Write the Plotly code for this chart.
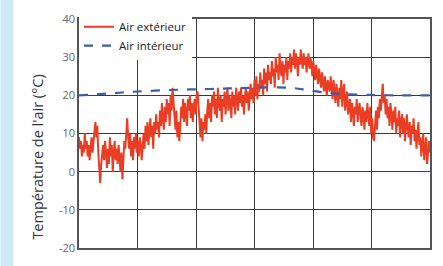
import plotly.graph_objects as go

# Outdoor air temperature, one value per day
outdoor = [
    9, 6, 8, 4, 7, 5, 10, 6, 8, 4,
    7, 3, 6, 9, 5, 8, 11, 13, 9, 12,
    5, 1, -3, 2, 4, 7, 3, 8, 5, 1,
    6, 2, 9, 4, 7, 0, 5, 8, 3, 6,
    2, 7, 4, 0, 5, -2, 3, 8, 6, 11,
    14, 9, 6, 10, 4, 8, 3, 9, 6, 10,
    5, 8, 4, 9, 7, 3, 8, 10, 6, 12,
    8, 13, 7, 11, 14, 9, 12, 6, 13, 10,
    15, 11, 13, 9, 16, 12, 18, 14, 11, 17,
    13, 19, 15, 18, 12, 20, 16, 22, 18, 14,
    11, 16, 9, 13, 8, 12, 17, 14, 19, 13,
    18, 15, 12, 19, 16, 20, 14, 18, 13, 17,
    19, 15, 20, 21, 16, 12, 9, 14, 8, 13,
    11, 15, 10, 16, 19, 14, 18, 13, 20, 17,
    21, 15, 19, 14, 22, 18, 16, 20, 13, 19,
    17, 21, 15, 19, 22, 16, 20, 18, 14, 21,
    17, 20, 15, 22, 19, 16, 21, 18, 22, 17,
    20, 15, 19, 22, 18, 21, 16, 20, 23, 19,
    22, 18, 24, 20, 25, 19, 23, 21, 26, 22,
    24, 20, 27, 23, 26, 21, 28, 24, 26, 23,
    29, 25, 27, 22, 30, 26, 28, 24, 31, 27,
    25, 29, 23, 28, 26, 30, 24, 29, 27, 31,
    26, 30, 28, 32, 27, 31, 29, 25, 30, 28,
    32, 29, 27, 31, 28, 30, 26, 29, 31, 27,
    30, 28, 25, 29, 27, 24, 28, 26, 23, 27,
    25, 22, 26, 24, 21, 25, 23, 20, 24, 22,
    21, 25, 22, 19, 24, 21, 18, 23, 20, 17,
    22, 19, 24, 17, 21, 23, 16, 19, 21, 15,
    17, 19, 13, 18, 16, 12, 17, 15, 19, 13,
    16, 18, 14, 12, 17, 15, 11, 16, 13, 18,
    15, 12, 17, 10, 14, 9, 8, 13, 16, 11,
    17, 14, 19, 16, 21, 23, 18, 20, 15, 19,
    14, 17, 12, 18, 15, 11, 16, 13, 17, 10,
    14, 12, 16, 9, 13, 15, 10, 14, 8, 12,
    15, 11, 9, 13, 7, 12, 10, 14, 8, 11,
    6, 10, 13, 7, 9, 4, 8, 10, 3, 7,
    9, 2, 6, 8, 5,
]
outdoor_days = list(range(len(outdoor)))

# Indoor air temperature
indoor_days = [0, 32, 60, 94, 125, 156, 182, 218, 239, 260, 275, 301, 333, 364]
indoor = [20.0, 20.5, 21.0, 21.4, 21.6, 21.8, 22.0, 22.0, 21.3, 20.6, 20.3, 20.1, 20.0, 20.0]

y_ticks = [-20, -10, 0, 10, 20, 30, 40]
y_ticklabels = ["-20", "-10", "0", "10", "20", "30", "40"]
x_grid = [k * 364 / 6 for k in range(7)]
y_title = "Température de l'air (°C)"

fig = go.Figure()
fig.add_trace(go.Scatter(
    x=outdoor_days, y=outdoor, mode="lines", name="Air extérieur",
    line=dict(color="#ea3d23", width=2),
))
fig.add_trace(go.Scatter(
    x=indoor_days, y=indoor, mode="lines", name="Air intérieur",
    line=dict(color="#3d5ea6", width=2.2, dash="dash", shape="spline"),
))

W, H = 443, 266
ml, mr, mt, mb = 79, 11, 14, 17
pw = W - ml - mr
ph = H - mt - mb

fig.add_shape(type="rect", xref="paper", yref="paper",
              x0=-ml / pw, x1=-(ml - 13) / pw, y0=-1, y1=2,
              fillcolor="#cfe9f8", line=dict(width=0), layer="below")

fig.add_annotation(
    text=y_title, textangle=-90, showarrow=False,
    xref="paper", yref="paper",
    x=(37 - ml) / pw, y=(H - mb - 156) / ph,
    xanchor="center", yanchor="middle",
    font=dict(size=14.5, color="#333"),
)

fig.update_layout(
    width=W, height=H,
    margin=dict(l=ml, r=mr, t=mt, b=mb),
    paper_bgcolor="white", plot_bgcolor="white",
    font=dict(family="Open Sans, DejaVu Sans, sans-serif", color="#333"),
    showlegend=True,
    legend=dict(x=0.0, y=1.03, xanchor="left", yanchor="top",
                bgcolor="white", borderwidth=0,
                font=dict(size=11.5, color="#222"),
                tracegroupgap=0, itemwidth=30),
    xaxis=dict(range=[0, 364], tickvals=x_grid, showticklabels=False,
               showgrid=True, gridcolor="#3a3a3a", gridwidth=1.3,
               zeroline=False, showline=True, linecolor="#555", linewidth=1.5,
               mirror=True, ticks=""),
    yaxis=dict(range=[-20, 40], tickvals=y_ticks, ticktext=y_ticklabels,
               showgrid=True, gridcolor="#3a3a3a", gridwidth=1.3,
               zeroline=False, showline=True, linecolor="#555", linewidth=1.5,
               mirror=True, ticks="",
               tickfont=dict(size=11, color="#666")),
)

fig.write_html("out.html", config={"displayModeBar": False},
               post_script="document.body.style.margin='0';")
